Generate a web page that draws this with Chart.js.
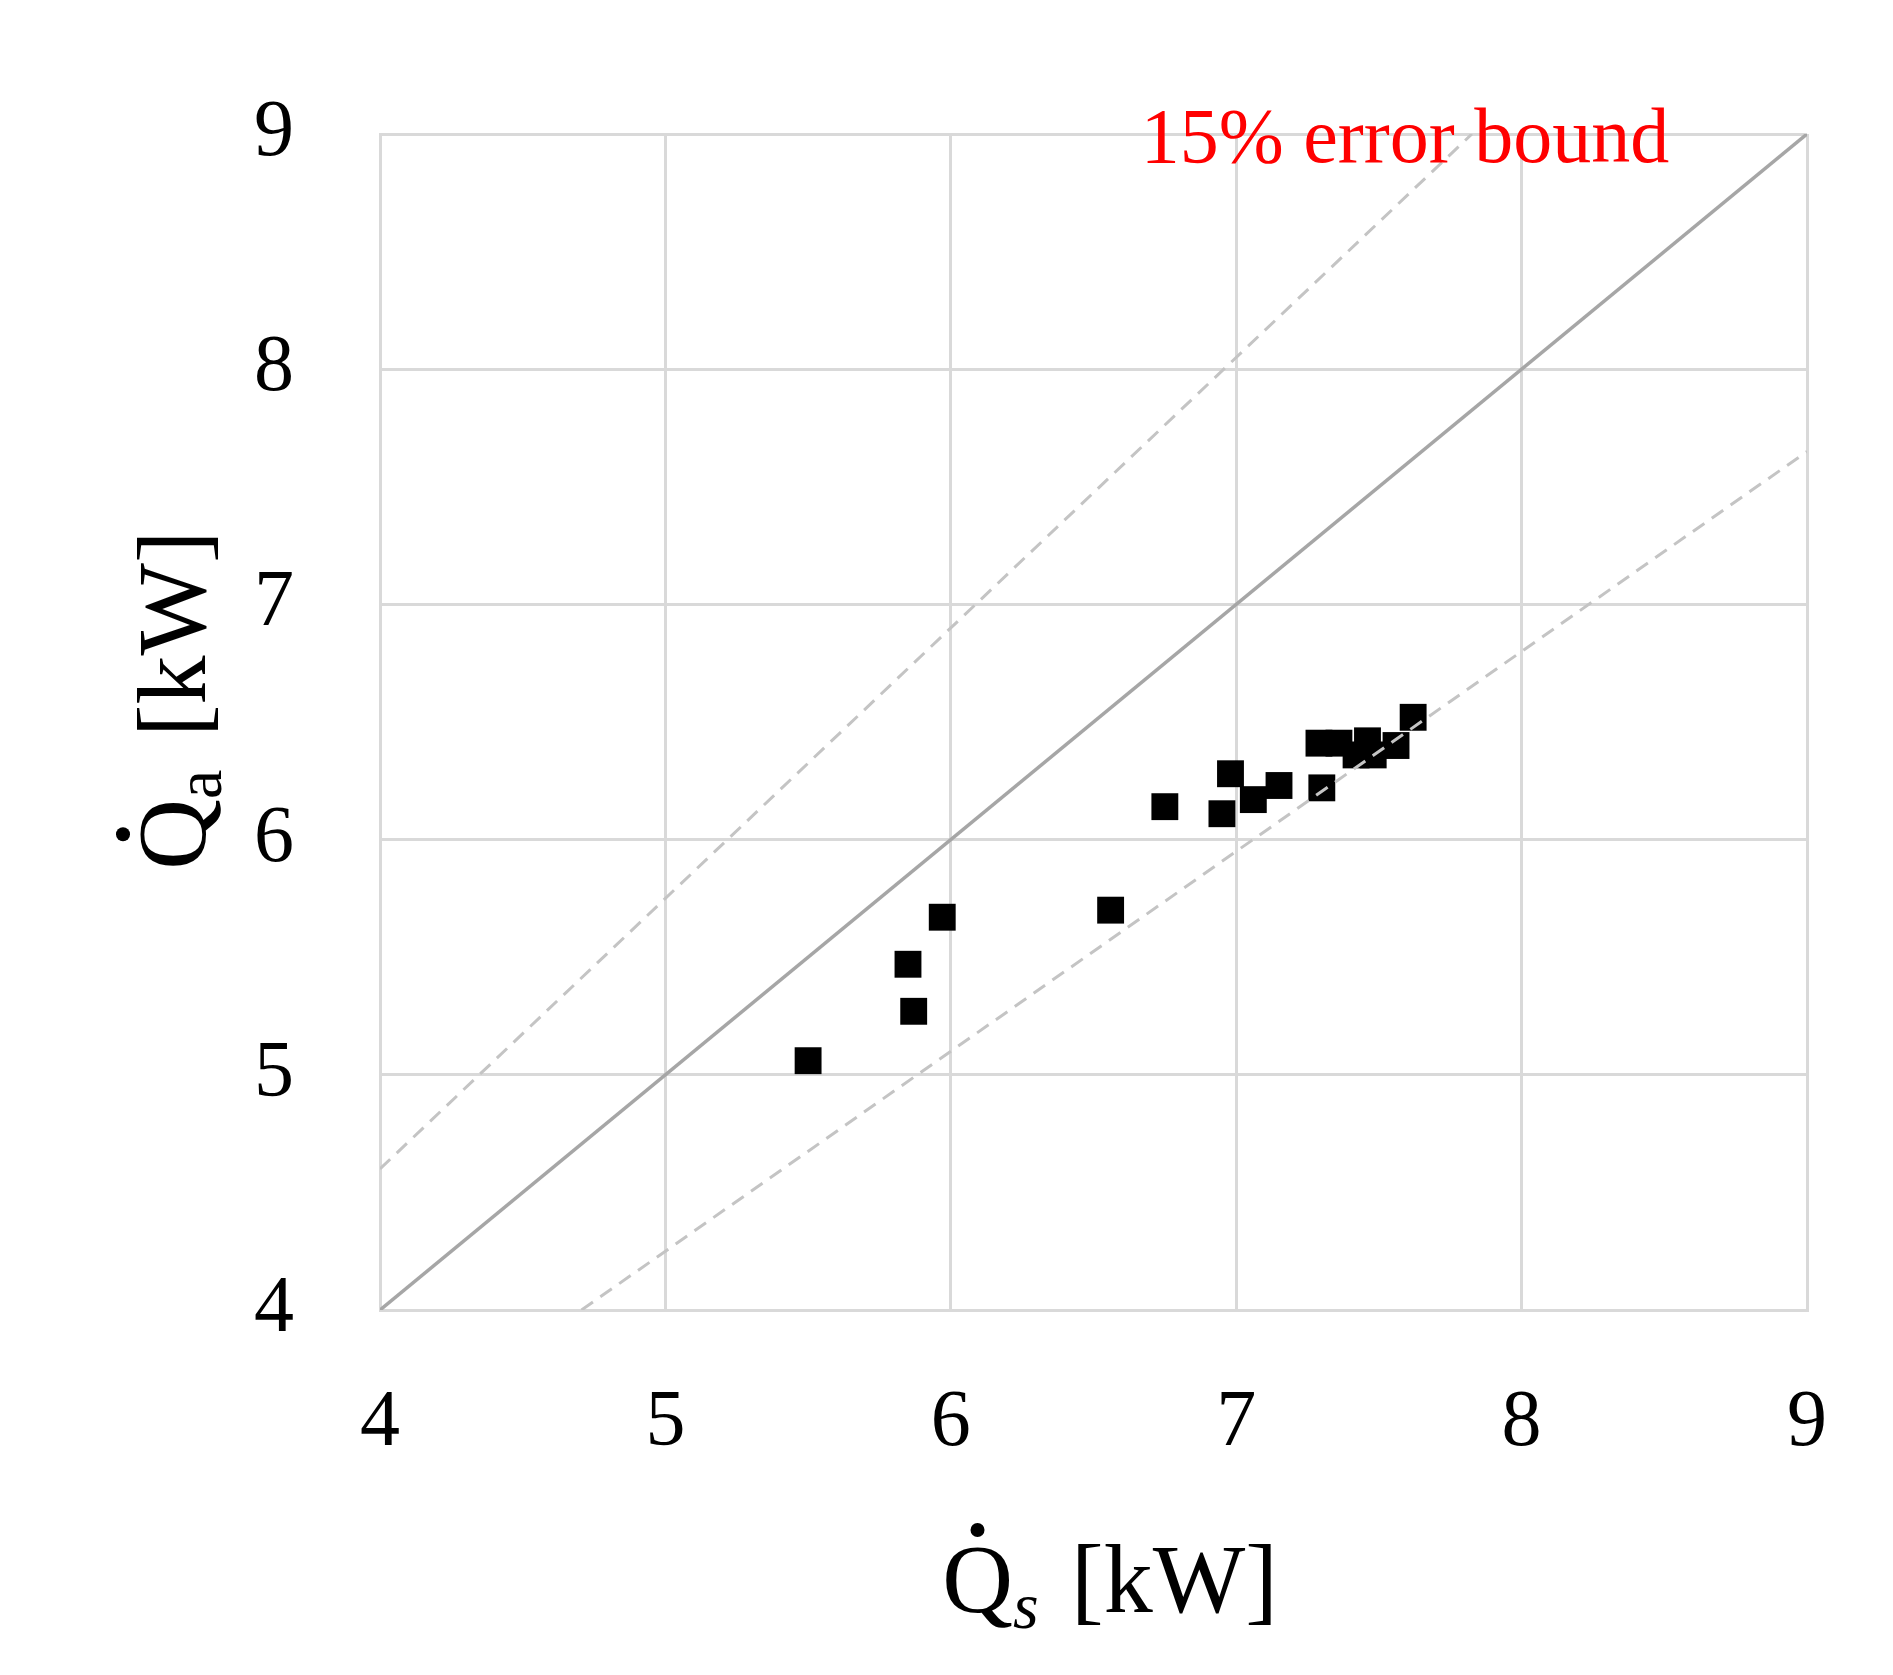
<!DOCTYPE html>
<html><head><meta charset="utf-8">
<script src="https://cdn.jsdelivr.net/npm/chart.js@4"></script>
<style>html,body{margin:0;padding:0;background:#fff}#w{width:1893px;height:1675px}</style>
</head><body><div id="w"><canvas id="c"></canvas></div>
<script>
const qs = [5.50,5.85,5.87,5.97,6.56,6.75,6.95,6.98,7.06,7.15,7.30,7.29,7.36,7.42,7.46,7.48,7.56,7.62];
const qa = [5.06,5.47,5.27,5.67,5.70,6.14,6.11,6.28,6.17,6.23,6.22,6.41,6.41,6.36,6.42,6.36,6.40,6.52];
const ticks = [4,5,6,7,8,9];
const perfectLine = [[4,4],[9,9]];
const upperBound = [[4,4.6],[7.826,9]];
const lowerBound = [[4.706,4],[9,7.65]];
const toPts = a => a.map(p => ({x:p[0], y:p[1]}));
const serif = '"Liberation Serif", "DejaVu Serif", serif';
const labels = {
  id:'labels',
  afterDraw(ch){
    const g = ch.ctx; g.save();
    g.fillStyle = '#ff0000'; g.font = '78px ' + serif; g.textAlign='center'; g.textBaseline='middle';
    g.fillText('15% error bound', 1405, 142);
    g.fillStyle = '#000'; g.textAlign='left'; g.textBaseline='alphabetic';
    const big = '98px ' + serif;
    // x title
    g.font = big; const qw = g.measureText('Q').width; const kw = g.measureText(' [kW]').width;
    g.font = 'italic 66px ' + serif; const sw = g.measureText('s').width;
    let tot = qw + sw + 8 + kw;
    let x0 = 1110 - tot/2, yb = 1612;
    g.font = big; g.fillText('Q', x0, yb);
    g.beginPath(); g.arc(x0+qw/2, yb-82, 7, 0, Math.PI*2); g.fill();
    g.font = 'italic 66px ' + serif; g.fillText('s', x0+qw, yb+16);
    g.font = big; g.fillText(' [kW]', x0+qw+sw+8, yb);
    // y title
    g.translate(205, 700); g.rotate(-Math.PI/2);
    g.font = '66px ' + serif; const aw = g.measureText('a').width;
    tot = qw + aw + 8 + kw;
    let sx = -tot/2;
    g.font = big; g.fillText('Q', sx, 0);
    g.beginPath(); g.arc(sx+qw/2, -82, 7, 0, Math.PI*2); g.fill();
    g.font = '66px ' + serif; g.fillText('a', sx+qw, 16);
    g.font = big; g.fillText(' [kW]', sx+qw+aw+8, 0);
    g.restore();
  }
};
new Chart(document.getElementById('c'), {
  type:'scatter',
  data:{datasets:[
    {data:toPts(perfectLine), showLine:true, borderColor:'#a6a6a6', borderWidth:3.5, pointRadius:0},
    {data:toPts(upperBound), showLine:true, borderColor:'#c4c4c4', borderWidth:3, borderDash:[14,9], pointRadius:0},
    {data:toPts(lowerBound), showLine:true, borderColor:'#c4c4c4', borderWidth:3, borderDash:[14,9], pointRadius:0},
    {data:qs.map((v,i)=>({x:v,y:qa[i]})), pointStyle:'rect', pointRadius:19, backgroundColor:'#000', borderColor:'#000', borderWidth:0}
  ]},
  options:{
    responsive:true, maintainAspectRatio:false, animation:false,
    layout:{padding:{left:0,top:28,right:61,bottom:0}},
    plugins:{legend:{display:false}, tooltip:{enabled:false}},
    scales:{
      x:{min:4,max:9, afterFit(s){s.height=365;}, afterBuildTicks(s){s.ticks=ticks.map(v=>({value:v}));},
        grid:{color:'#d9d9d9', lineWidth:3, drawTicks:false}, border:{color:'#d9d9d9', width:3},
        ticks:{font:{family:serif,size:80}, color:'#000', padding:66}},
      y:{min:4,max:9, afterFit(s){s.width=380;}, afterBuildTicks(s){s.ticks=ticks.map(v=>({value:v}));},
        grid:{color:'#d9d9d9', lineWidth:3, drawTicks:false}, border:{color:'#d9d9d9', width:3},
        ticks:{font:{family:serif,size:80}, color:'#000', padding:86}}
    }
  },
  plugins:[labels]
});
</script></body></html>
